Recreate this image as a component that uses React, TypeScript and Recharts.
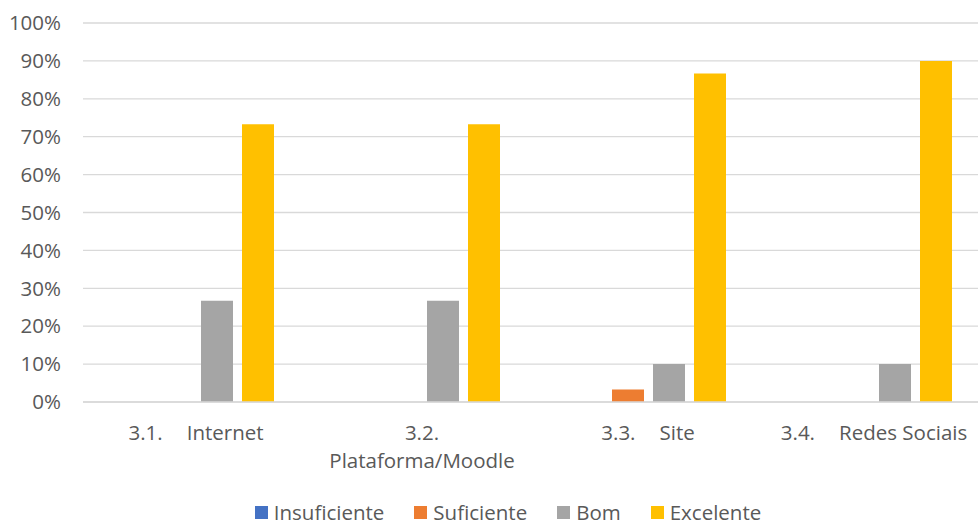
import { BarChart, Bar, XAxis, YAxis, CartesianGrid, Legend } from 'recharts'

// survey items: code + name (shown on the category axis)
const codes = ['3.1.', '3.2.', '3.3.', '3.4.']
const names = ['Internet', 'Plataforma/Moodle', 'Site', 'Redes Sociais']

// share of answers per rating, in %
const insuficiente = [0, 0, 0, 0]
const suficiente = [0, 0, 3.3, 0]
const bom = [26.7, 26.7, 10, 10]
const excelente = [73.3, 73.3, 86.7, 90]

const series = ['Insuficiente', 'Suficiente', 'Bom', 'Excelente']
const colors = ['#4472C4', '#ED7D31', '#A5A5A5', '#FFC000']
const yTicks = [0, 10, 20, 30, 40, 50, 60, 70, 80, 90, 100]

const data = codes.map((code, i) => ({
  code,
  name: names[i],
  key: code + ' ' + names[i],
  Insuficiente: insuficiente[i],
  Suficiente: suficiente[i],
  Bom: bom[i],
  Excelente: excelente[i],
}))

const W = 1016
const H = 525
const TEXT = '#595959'
const GRID = '#D9D9D9'
const FONT = '"Open Sans", sans-serif'

function CategoryTick({ x, y, payload }: any) {
  const [code, ...rest] = String(payload.value).split(' ')
  const name = rest.join(' ')
  const wrap = name.length > 14
  const base = 402 + 38 - y
  if (wrap) {
    return (
      <g transform={`translate(${x},${y})`}>
        <text textAnchor="middle" fill={TEXT} fontSize={20.5} fontFamily={FONT} y={base}>
          {code}
        </text>
        <text textAnchor="middle" fill={TEXT} fontSize={20.5} fontFamily={FONT} y={base + 28}>
          {name}
        </text>
      </g>
    )
  }
  return (
    <g transform={`translate(${x},${y})`}>
      <text textAnchor="middle" fill={TEXT} fontSize={20.5} fontFamily={FONT} y={base}>
        <tspan>{code}</tspan>
        <tspan dx={24}>{name}</tspan>
      </text>
    </g>
  )
}

function LegendBox() {
  return (
    <div
      style={{
        display: 'flex',
        justifyContent: 'center',
        alignItems: 'center',
        height: 26,
        fontFamily: FONT,
        fontSize: 20.5,
        color: TEXT,
      }}
    >
      {series.map((s, i) => (
        <div key={s} style={{ display: 'flex', alignItems: 'center', marginRight: i < series.length - 1 ? 30 : 0 }}>
          <span style={{ width: 13, height: 13, background: colors[i], marginRight: 6, display: 'inline-block' }} />
          <span style={{ lineHeight: '26px' }}>{s}</span>
        </div>
      ))}
    </div>
  )
}

export default function App() {
  return (
    <div
      style={{
        position: 'absolute',
        left: 0,
        top: 0,
        width: 978,
        height: 525,
        overflow: 'hidden',
        background: '#fff',
      }}
    >
      <BarChart
        width={W}
        height={H}
        data={data}
        margin={{ top: 23, right: 29, left: 0, bottom: 0 }}
        barSize={32}
        barGap={9}
      >
        <CartesianGrid vertical={false} stroke={GRID} strokeWidth={1.3} />
        <XAxis
          dataKey="key"
          height={97}
          tickLine={false}
          axisLine={{ stroke: GRID, strokeWidth: 1.3 }}
          tick={<CategoryTick />}
          interval={0}
        />
        <YAxis
          width={83}
          domain={[0, 100]}
          ticks={yTicks}
          tickFormatter={(v: number) => `${v}%`}
          tickLine={false}
          axisLine={false}
          tickMargin={16}
          tick={{ fill: TEXT, fontSize: 20.5, fontFamily: FONT }}
          interval={0}
        />
        <Legend verticalAlign="bottom" wrapperStyle={{ left: 0, width: W, bottom: 0 }} content={() => <LegendBox />} />
        {series.map((s, i) => (
          <Bar key={s} dataKey={s} fill={colors[i]} isAnimationActive={false} />
        ))}
      </BarChart>
    </div>
  )
}
